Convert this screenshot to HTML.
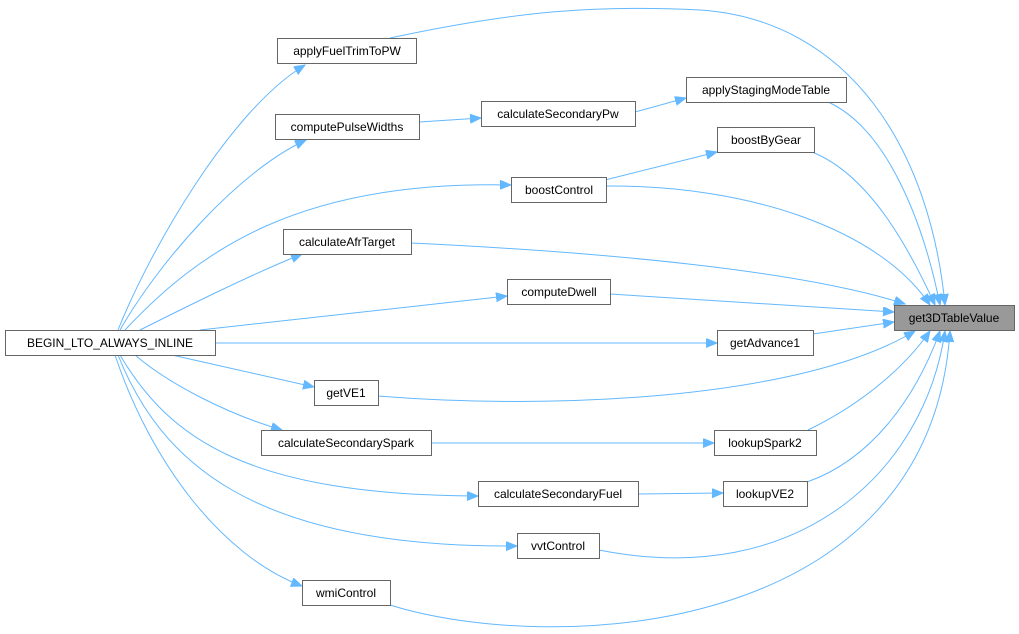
<!DOCTYPE html>
<html><head><meta charset="utf-8"><style>
html,body{margin:0;padding:0;background:#fff;}
svg{display:block;}
text{font-family:"Liberation Sans",sans-serif;font-size:12px;fill:#000;}
</style></head><body>
<svg width="1019" height="634" viewBox="0 0 1019 634" xmlns="http://www.w3.org/2000/svg">
<defs>
<marker id="a" markerUnits="userSpaceOnUse" markerWidth="12" markerHeight="10" refX="11" refY="4.5" orient="auto">
<path d="M0,0 L11,4.5 L0,9 Z" fill="#63b8ff" stroke="#63b8ff"/>
</marker>
</defs>
<g fill="none" stroke="#63b8ff" stroke-width="1" marker-end="url(#a)">
<path d="M118,330 C150,250 230,110 305,65"/>
<path d="M120,330 C160,260 240,170 306,140"/>
<path d="M125,330 C200,250 300,180 511,185"/>
<path d="M140,330 C190,305 250,275 302,254"/>
<path d="M200,330 L507,296"/>
<path d="M215,343 L717,343"/>
<path d="M172,355 L314,387"/>
<path d="M135,355 C170,385 230,415 282,430"/>
<path d="M120,355 C170,440 250,495 478,496"/>
<path d="M118,355 C160,460 250,548 517,546"/>
<path d="M115,355 C150,460 220,555 302,586"/>
<path d="M419,122 L481,118"/>
<path d="M635,112 L686,98"/>
<path d="M605,180 L717,152"/>
<path d="M431,443 L714,443"/>
<path d="M638,494 L723,493"/>
<path d="M390,38 C520,10 600,5 700,10 C850,20 930,150 945,305"/>
<path d="M828,102 C890,130 925,230 940,305"/>
<path d="M812,152 C870,175 910,250 935,305"/>
<path d="M606,186 C750,185 880,230 930,305"/>
<path d="M411,243 C600,252 800,270 905,304"/>
<path d="M610,294 L894,312"/>
<path d="M813,334 L894,322"/>
<path d="M378,396 C550,410 800,400 915,331"/>
<path d="M808,430 C870,400 910,360 930,331"/>
<path d="M807,482 C870,460 915,400 940,331"/>
<path d="M599,550 C800,590 925,470 945,331"/>
<path d="M390,605 C550,655 930,640 950,331"/>
</g>
<g stroke="#666" stroke-width="1" fill="#fff">
<rect x="277.5" y="38.5" width="139" height="25"/>
<rect x="686.5" y="77.5" width="160" height="25"/>
<rect x="481.5" y="101.5" width="154" height="25"/>
<rect x="275.5" y="114.5" width="144" height="25"/>
<rect x="717.5" y="127.5" width="97" height="25"/>
<rect x="511.5" y="177.5" width="95" height="25"/>
<rect x="283.5" y="229.5" width="128" height="25"/>
<rect x="507.5" y="279.5" width="103" height="25"/>
<rect x="894.5" y="305.5" width="120" height="25" fill="#999"/>
<rect x="5.5" y="330.5" width="210" height="25"/>
<rect x="717.5" y="330.5" width="96" height="25"/>
<rect x="314.5" y="380.5" width="64" height="25"/>
<rect x="261.5" y="430.5" width="170" height="25"/>
<rect x="714.5" y="430.5" width="102" height="25"/>
<rect x="478.5" y="481.5" width="160" height="25"/>
<rect x="723.5" y="481.5" width="84" height="25"/>
<rect x="517.5" y="533.5" width="82" height="25"/>
<rect x="302.5" y="580.5" width="88" height="25"/>
</g>
<g text-anchor="middle">
<text x="347" y="55">applyFuelTrimToPW</text>
<text x="766" y="94">applyStagingModeTable</text>
<text x="558" y="118">calculateSecondaryPw</text>
<text x="347" y="131">computePulseWidths</text>
<text x="766" y="144">boostByGear</text>
<text x="559" y="194">boostControl</text>
<text x="347" y="246">calculateAfrTarget</text>
<text x="559" y="296">computeDwell</text>
<text x="954" y="322">get3DTableValue</text>
<text x="110" y="347">BEGIN_LTO_ALWAYS_INLINE</text>
<text x="765" y="347">getAdvance1</text>
<text x="346" y="397">getVE1</text>
<text x="346" y="447">calculateSecondarySpark</text>
<text x="765" y="447">lookupSpark2</text>
<text x="558" y="498">calculateSecondaryFuel</text>
<text x="765" y="498">lookupVE2</text>
<text x="558" y="550">vvtControl</text>
<text x="346" y="597">wmiControl</text>
</g>
</svg>
</body></html>
